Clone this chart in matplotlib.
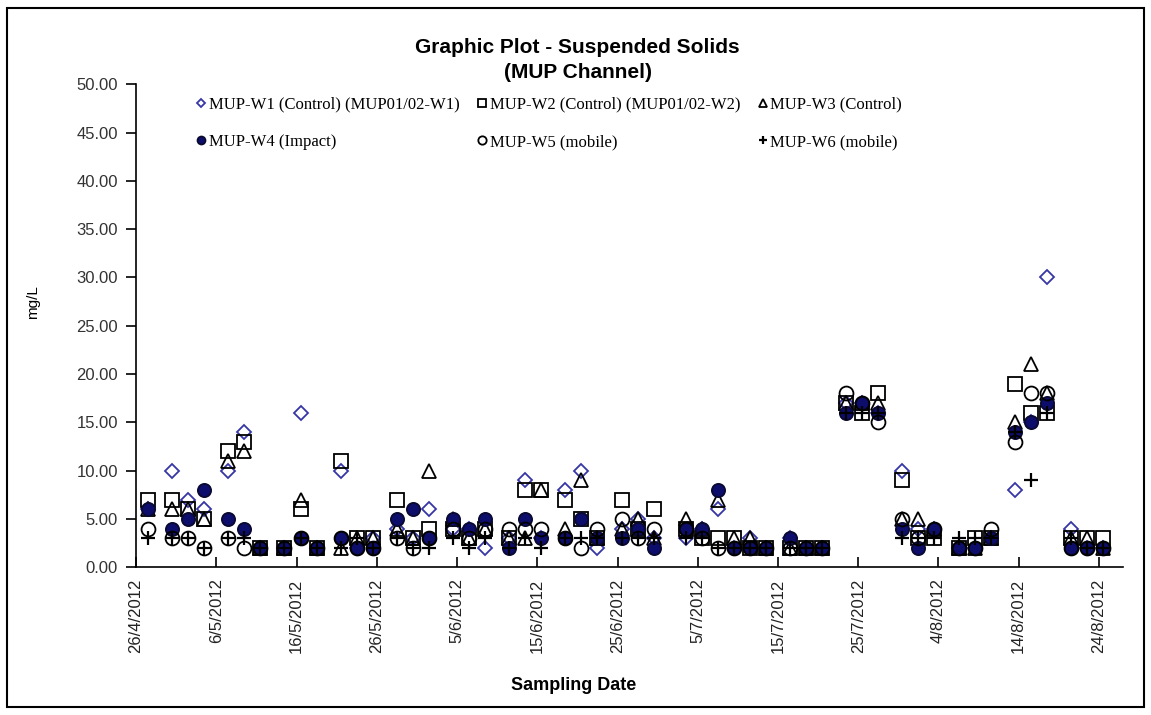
import pandas as pd
import matplotlib
matplotlib.use('Agg')
import matplotlib.pyplot as plt
from matplotlib.patches import Rectangle

# sampling dates and suspended solids (mg/L) per station
dates = ['2012-04-27', '2012-04-30', '2012-05-02', '2012-05-04', '2012-05-07', '2012-05-09',
         '2012-05-11', '2012-05-14', '2012-05-16', '2012-05-18', '2012-05-21', '2012-05-23',
         '2012-05-25', '2012-05-28', '2012-05-30', '2012-06-01', '2012-06-04', '2012-06-06',
         '2012-06-08', '2012-06-11', '2012-06-13', '2012-06-15', '2012-06-18', '2012-06-20',
         '2012-06-22', '2012-06-25', '2012-06-27', '2012-06-29', '2012-07-03', '2012-07-05',
         '2012-07-07', '2012-07-09', '2012-07-11', '2012-07-13', '2012-07-16', '2012-07-18',
         '2012-07-20', '2012-07-23', '2012-07-25', '2012-07-27', '2012-07-30', '2012-08-01',
         '2012-08-03', '2012-08-06', '2012-08-08', '2012-08-10', '2012-08-13', '2012-08-15',
         '2012-08-17', '2012-08-20', '2012-08-22', '2012-08-24']

w1 = [6, 10, 7, 6, 10, 14, 2, 2, 16, 2, 10, 2, 3, 4, 3, 6, 4, 4, 2, 3, 9, 3, 8, 10, 2, 4,
      5, 3, 3, 4, 6, 2, 3, 2, 3, 2, 2, 17, 17, 16, 10, 4, 4, 2, 2, 3, 8, 15, 30, 4, 2, 2]
w2 = [7, 7, 6, 5, 12, 13, 2, 2, 6, 2, 11, 3, 3, 7, 3, 4, 4, 3, 4, 3, 8, 8, 7, 5, 3, 7,
      4, 6, 4, 3, 3, 3, 2, 2, 2, 2, 2, 17, 16, 18, 9, 3, 3, 2, 3, 3, 19, 16, 16, 3, 3, 3]
w3 = [6, 6, 6, 5, 11, 12, 2, 2, 7, 2, 2, 3, 3, 4, 3, 10, 5, 3, 4, 3, 3, 8, 4, 9, 3, 4,
      5, 3, 5, 4, 7, 3, 3, 2, 2, 2, 2, 17, 17, 17, 5, 5, 4, 2, 2, 3, 15, 21, 18, 3, 3, 2]
w4 = [6, 4, 5, 8, 5, 4, 2, 2, 3, 2, 3, 2, 2, 5, 6, 3, 5, 4, 5, 2, 5, 3, 3, 5, 3, 3,
      4, 2, 4, 4, 8, 2, 2, 2, 3, 2, 2, 16, 17, 16, 4, 2, 4, 2, 2, 3, 14, 15, 17, 2, 2, 2]
w5 = [4, 3, 3, 2, 3, 2, 2, 2, 3, 2, 3, 2, 2, 3, 2, 3, 4, 3, 4, 4, 4, 4, 3, 2, 4, 5,
      3, 4, 4, 3, 2, 2, 2, 2, 2, 2, 2, 18, 17, 15, 5, 3, 4, 2, 2, 4, 13, 18, 18, 2, 2, 2]
w6 = [3, 3, 3, 2, 3, 3, 2, 2, 3, 2, 2, 3, 2, 3, 2, 2, 3, 2, 3, 2, 3, 2, 3, 3, 3, 3,
      3, 3, 3, 3, 2, 2, 2, 2, 2, 2, 2, 16, 16, 16, 3, 3, 3, 3, 3, 3, 14, 9, 16, 3, 2, 2]

names = ['MUP-W1 (Control) (MUP01/02-W1)', 'MUP-W2 (Control) (MUP01/02-W2)', 'MUP-W3 (Control)',
         'MUP-W4 (Impact)', 'MUP-W5 (mobile)', 'MUP-W6 (mobile)']

narrow = ['Liberation Sans Narrow', 'Liberation Sans', 'DejaVu Sans']

# date axis: points sit in the middle of their day slot
x = pd.to_datetime(dates) + pd.Timedelta(hours=12)
start = pd.Timestamp('2012-04-26')

fig = plt.figure(figsize=(11.51, 7.15), dpi=100)
fig.patches.append(Rectangle((0.006, 0.011), 0.988, 0.978, transform=fig.transFigure,
                             fill=False, ec='black', lw=1.5))
ax = fig.add_axes([0.1182, 0.2066, 0.8575, 0.6755])

kw = dict(ls='none', mew=1.3)
h1, = ax.plot(x, w1, marker='D', ms=7, mfc='none', mec='#3636a6', label=names[0], **kw)
h2, = ax.plot(x, w2, marker='s', ms=9.5, mfc='none', mec='black', label=names[1], **kw)
h3, = ax.plot(x, w3, marker='^', ms=10, mfc='none', mec='black', label=names[2], **kw)
h4, = ax.plot(x, w4, marker='o', ms=9.5, mfc='#0d0d6b', mec='#0a0a30', label=names[3], **kw)
h5, = ax.plot(x, w5, marker='o', ms=10, mfc='none', mec='black', label=names[4], **kw)
h6, = ax.plot(x, w6, marker='+', ms=10, mec='black', label=names[5], ls='none', mew=1.6)

ax.set_xlim(start, start + pd.Timedelta(days=123))
ax.set_ylim(0, 50)

ticks = pd.date_range('2012-04-26', '2012-08-24', freq='10D')
ax.set_xticks(ticks)
ax.set_xticklabels([f'{d.day}/{d.month}/{d.year}' for d in ticks], rotation=90,
                   fontsize=12, family='Liberation Sans', color='#222222')
yt = list(range(0, 51, 5))
ax.set_yticks(yt)
ax.set_yticklabels([f'{v:.2f}' for v in yt], fontsize=12, family=narrow, color='#333333')
ax.tick_params(axis='x', direction='in', length=7, width=1.2, pad=8)
ax.tick_params(axis='y', direction='out', length=7, width=1.2, pad=6)
for s in ['top', 'right']:
    ax.spines[s].set_visible(False)
for s in ['left', 'bottom']:
    ax.spines[s].set_linewidth(1.2)

ax.set_ylabel('mg/L', fontsize=11, family=narrow)
ax.yaxis.set_label_coords(-0.097, 0.55)
ax.set_xlabel('Sampling Date', fontsize=13, fontweight='bold', family=narrow)
ax.xaxis.set_label_coords(0.443, -0.228)

fig.text(0.502, 0.916, 'Graphic Plot - Suspended Solids\n(MUP Channel)', ha='center', va='center',
         fontsize=15, fontweight='bold', family=narrow, linespacing=1.35)

leg = ax.legend(handles=[h1, h4, h2, h5, h3, h6], ncol=3, loc='upper left',
                bbox_to_anchor=(0.045, 1.006), frameon=False, markerscale=0.6,
                handlelength=0.7, handletextpad=0.1, columnspacing=1.0, labelspacing=1.31,
                prop={'family': 'Liberation Serif', 'size': 12})

fig.savefig('out.png', dpi=100)
